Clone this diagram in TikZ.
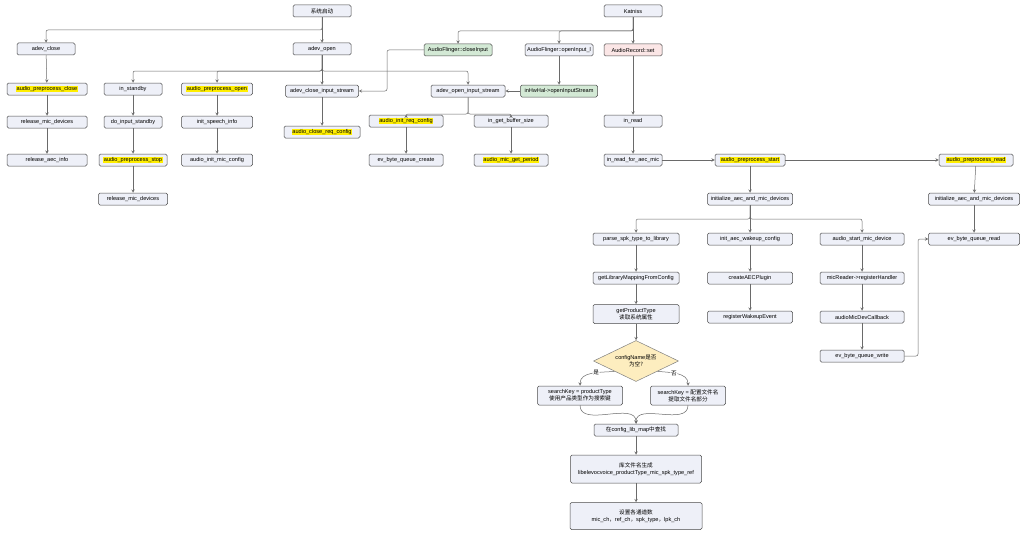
\documentclass[tikz,border=0pt]{standalone}
\usepackage{fontspec}
\setmainfont{Liberation Sans}
\newfontfamily\cjk{Noto Sans CJK SC}
\usetikzlibrary{shapes.geometric, arrows, positioning, calc}

\definecolor{boxfill}{HTML}{EEF0F8}
\definecolor{boxline}{HTML}{4A4A4A}
\definecolor{linegray}{HTML}{6A6A6A}
\definecolor{markyellow}{HTML}{FFEE00}
\definecolor{greenfill}{HTML}{D3E9D5}
\definecolor{pinkfill}{HTML}{FBE6E6}
\definecolor{decfill}{HTML}{FDEDBF}

\newcommand{\marktext}[1]{{\setlength{\fboxsep}{0.6pt}\colorbox{markyellow}{#1}}}

\begin{document}
\begin{tikzpicture}[
    x=1pt, y=-1pt,
    box/.style={rectangle, draw=boxline, fill=boxfill, rounded corners=1.5pt, line width=0.5pt, minimum height=12pt, inner sep=1pt, align=center, font=\fontsize{5.6}{6.8}\selectfont},
    tallbox/.style={box, minimum height=19pt},
    greenbox/.style={box, fill=greenfill},
    pinkbox/.style={box, fill=pinkfill},
    decision/.style={diamond, aspect=2, draw=boxline!70, fill=decfill, line width=0.5pt, inner sep=0.5pt, minimum width=85pt, minimum height=41pt, align=center, font=\fontsize{5.6}{6.8}\selectfont},
    yesno/.style={fill=white, inner sep=0.8pt, font=\fontsize{5.6}{6.8}\selectfont\cjk},
    arrow/.style={draw=linegray, line width=0.5pt, rounded corners=2pt, ->, >=stealth}
]
    \useasboundingbox[fill=white] (0,0) rectangle (1024,535);

    % entry points
    \node[box, minimum width=58pt] (sys) at (322,11) {\cjk 系统启动};
    \node[box, minimum width=58pt] (katniss) at (633,11) {Katniss};

    \node[box, minimum width=58pt] (adevclose) at (46,49) {adev\_close};
    \node[box, minimum width=58pt] (adevopen) at (322,49) {adev\_open};
    \node[greenbox, minimum width=68pt] (closeinput) at (458,50) {AudioFlinger::closeInput};
    \node[box, minimum width=68pt] (openinput) at (559,50) {AudioFlinger::openInput\_l};
    \node[pinkbox, minimum width=58pt] (recordset) at (633,50) {AudioRecord::set};

    \node[box, minimum width=80pt] (apclose) at (47,89) {\marktext{audio\_preprocess\_close}};
    \node[box, minimum width=58pt] (instandby) at (133,89) {in\_standby};
    \node[box, minimum width=71pt] (apopen) at (217,89) {\marktext{audio\_preprocess\_open}};
    \node[box, minimum width=73pt] (adevcloseis) at (322,91) {adev\_close\_input\_stream};
    \node[box, minimum width=74pt] (adevopenis) at (468,91) {adev\_open\_input\_stream};
    \node[greenbox, minimum width=77pt] (inhwhal) at (559,91) {inHwHal->openInputStream};

    \node[box, minimum width=80pt] (relmic) at (47,122) {release\_mic\_devices};
    \node[box, minimum width=58pt] (doinput) at (133,122) {do\_input\_standby};
    \node[box, minimum width=71pt] (initspeech) at (217,122) {init\_speech\_info};
    \node[box, minimum width=76pt] (closereq) at (322,132) {\marktext{audio\_close\_req\_config}};
    \node[box, minimum width=74pt] (initreq) at (406,121) {\marktext{audio\_init\_req\_config}};
    \node[box, minimum width=74pt] (getbuf) at (511,121) {in\_get\_buffer\_size};
    \node[box, minimum width=58pt] (inread) at (633,121) {in\_read};

    \node[box, minimum width=80pt] (relaec) at (47,160) {release\_aec\_info};
    \node[box, minimum width=68pt] (apstop) at (133,160) {\marktext{audio\_preprocess\_stop}};
    \node[box, minimum width=71pt] (initmic) at (217,160) {audio\_init\_mic\_config};
    \node[box, minimum width=74pt] (evcreate) at (406,160) {ev\_byte\_queue\_create};
    \node[box, minimum width=74pt] (micperiod) at (511,160) {\marktext{audio\_mic\_get\_period}};
    \node[box, minimum width=58pt] (inreadaec) at (633,160) {in\_read\_for\_aec\_mic};
    \node[box, minimum width=70pt] (apstart) at (750,160) {\marktext{audio\_preprocess\_start}};
    \node[box, minimum width=74pt] (apread) at (976,160) {\marktext{audio\_preprocess\_read}};

    \node[box, minimum width=69pt] (relmicb) at (133,199) {release\_mic\_devices};
    \node[box, minimum width=85pt] (initaec) at (750,199) {initialize\_aec\_and\_mic\_devices};
    \node[box, minimum width=91pt] (initaecb) at (974,199) {initialize\_aec\_and\_mic\_devices};

    \node[box, minimum width=86pt] (parsespk) at (636,239) {parse\_spk\_type\_to\_library};
    \node[box, minimum width=85pt] (initwake) at (750,239) {init\_aec\_wakeup\_config};
    \node[box, minimum width=84pt] (startmic) at (862,239) {audio\_start\_mic\_device};
    \node[box, minimum width=91pt] (evread) at (974,239) {ev\_byte\_queue\_read};

    \node[box, minimum width=86pt] (getlib) at (636,278) {getLibraryMappingFromConfig};
    \node[box, minimum width=85pt] (createaec) at (750,278) {createAECPlugin};
    \node[box, minimum width=84pt] (reghandler) at (862,278) {micReader->registerHandler};

    \node[tallbox, minimum width=86pt] (getprod) at (636,314) {getProductType\\{\cjk 读取系统属性}};
    \node[box, minimum width=85pt] (regwake) at (750,317) {registerWakeupEvent};
    \node[box, minimum width=84pt] (miccb) at (862,317) {audioMicDevCallback};
    \node[box, minimum width=84pt] (evwrite) at (862,356) {ev\_byte\_queue\_write};

    % library lookup
    \node[decision] (isempty) at (636,361) {configName{\cjk 是否}\\{\cjk 为空?}};
    \node[tallbox, minimum width=85pt] (keyprod) at (580,395.5) {searchKey = productType\\{\cjk 使用产品类型作为搜索键}};
    \node[tallbox, minimum width=75pt] (keyconf) at (688,395.5) {searchKey = {\cjk 配置文件名}\\{\cjk 提取文件名部分}};
    \node[box, minimum width=84pt] (lookup) at (636,430) {{\cjk 在}config\_lib\_map{\cjk 中查找}};
    \node[box, minimum width=131pt, minimum height=28pt] (libname) at (636,469) {{\cjk 库文件名生成}\\libelevocvoice\_productType\_mic\_spk\_type\_ref};
    \node[box, minimum width=132pt, minimum height=27pt] (setch) at (636,516) {{\cjk 设置各通道数}\\mic\_ch{\cjk ，}ref\_ch{\cjk ，}spk\_type{\cjk ，}lpk\_ch};

    \coordinate (sysfork) at (322,30);
    \coordinate (openfork) at (322,71);
    \coordinate (katfork) at (633,31);
    \coordinate (closebend) at (387,70);
    \coordinate (streamfork) at (468,114);
    \coordinate (aecfork) at (750,219);
    \coordinate (writebend) at (918,300);

    \draw[arrow] (sys) -- (sysfork) -| (adevclose);
    \draw[arrow] (sys) -- (adevopen);
    \draw[arrow] (adevopen) -- (openfork) -| (instandby);
    \draw[arrow] (adevopen) -- (openfork) -| (apopen);
    \draw[arrow] (adevopen) -- (adevcloseis);
    \draw[arrow] (adevopen) -- (openfork) -| (adevopenis);

    \draw[arrow] (katniss) -- (katfork) -| (closeinput);
    \draw[arrow] (katniss) -- (katfork) -| (openinput);
    \draw[arrow] (katniss) -- (recordset);
    \draw[arrow] (closeinput) -| (closebend) |- (adevcloseis);
    \draw[arrow] (openinput) -- (inhwhal);
    \draw[arrow] (inhwhal) -- (adevopenis);
    \draw[arrow] (recordset) -- (inread);

    \draw[arrow] (adevclose) -- (apclose);
    \draw[arrow] (apclose) -- (relmic);
    \draw[arrow] (relmic) -- (relaec);
    \draw[arrow] (instandby) -- (doinput);
    \draw[arrow] (doinput) -- (apstop);
    \draw[arrow] (apstop) -- (relmicb);
    \draw[arrow] (apopen) -- (initspeech);
    \draw[arrow] (initspeech) -- (initmic);
    \draw[arrow] (adevcloseis) -- (closereq);
    \draw[arrow] (adevopenis) -- (streamfork) -| (initreq);
    \draw[arrow] (adevopenis) -- (streamfork) -| (getbuf);
    \draw[arrow] (initreq) -- (evcreate);
    \draw[arrow] (getbuf) -- (micperiod);

    \draw[arrow] (inread) -- (inreadaec);
    \draw[arrow] (inreadaec) -- (apstart);
    \draw[arrow] (apstart) -- (apread);
    \draw[arrow] (apstart) -- (initaec);
    \draw[arrow] (initaec) -- (aecfork) -| (parsespk);
    \draw[arrow] (initaec) -- (initwake);
    \draw[arrow] (initaec) -- (aecfork) -| (startmic);
    \draw[arrow] (apread) -- (initaecb);
    \draw[arrow] (initaecb) -- (evread);

    \draw[arrow] (parsespk) -- (getlib);
    \draw[arrow] (getlib) -- (getprod);
    \draw[arrow] (getprod) -- (isempty);
    \draw[arrow] (initwake) -- (createaec);
    \draw[arrow] (createaec) -- (regwake);
    \draw[arrow] (startmic) -- (reghandler);
    \draw[arrow] (reghandler) -- (miccb);
    \draw[arrow] (miccb) -- (evwrite);
    \draw[arrow] (evwrite) -| (writebend) |- (evread);

    \draw[arrow] (isempty.south west) to[out=185, in=90] node[yesno, pos=0.4] {是} (keyprod.north);
    \draw[arrow] (isempty.south east) to[out=-5, in=90] node[yesno, pos=0.4] {否} (keyconf.north);
    \draw[arrow] (keyprod.south) to[out=-90, in=90] (lookup.north);
    \draw[arrow] (keyconf.south) to[out=-90, in=90] (lookup.north);
    \draw[arrow] (lookup) -- (libname);
    \draw[arrow] (libname) -- (setch);
\end{tikzpicture}
\end{document}
